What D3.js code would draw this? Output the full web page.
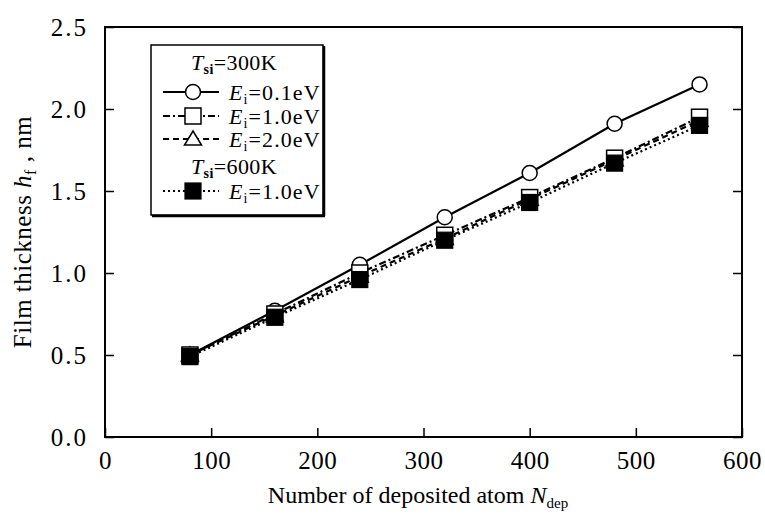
<!DOCTYPE html>
<html><head><meta charset="utf-8">
<script src="https://cdn.jsdelivr.net/npm/d3@7"></script>
<style>body{margin:0;background:#fff}svg{font-family:"Liberation Serif","Times New Roman",serif}</style>
</head><body><svg id="c" width="765" height="514"></svg>
<script>
const nDep = [80, 160, 240, 320, 400, 480, 560];
const e01_300K = [0.50, 0.77, 1.05, 1.34, 1.61, 1.91, 2.15];
const e10_300K = [0.50, 0.75, 1.00, 1.23, 1.46, 1.70, 1.95];
const e20_300K = [0.50, 0.74, 0.98, 1.21, 1.45, 1.69, 1.93];
const e10_600K = [0.49, 0.73, 0.96, 1.20, 1.43, 1.67, 1.90];
const xTicks = [0, 100, 200, 300, 400, 500, 600];
const yTicks = [0.0, 0.5, 1.0, 1.5, 2.0, 2.5];

const svg = d3.select("#c");
const L = 105, R = 742, T = 27, B = 437;
const x = d3.scaleLinear().domain([0, 600]).range([L, R]);
const y = d3.scaleLinear().domain([0, 2.5]).range([B, T]);

// axes
const tickLen = 9;
svg.append("g").attr("transform", `translate(0,${B})`)
  .call(d3.axisBottom(x).tickValues(xTicks).tickSize(-tickLen).tickPadding(14).tickFormat(d3.format("d")))
  .call(g => { g.select(".domain").remove(); g.selectAll("text").attr("font-size", 25).attr("font-family", "Liberation Serif").attr("fill", "#000").attr("letter-spacing", 0.5); g.selectAll("line").attr("stroke-width", 1.5); });
svg.append("g").attr("transform", `translate(${L},0)`)
  .call(d3.axisLeft(y).tickValues(yTicks).tickSize(-tickLen).tickPadding(17).tickFormat(d3.format(".1f")))
  .call(g => { g.select(".domain").remove(); g.selectAll("text").attr("font-size", 25).attr("font-family", "Liberation Serif").attr("fill", "#000").attr("letter-spacing", 2); g.selectAll("line").attr("stroke-width", 1.5); });
svg.append("g").attr("transform", `translate(${R},0)`)
  .call(d3.axisRight(y).tickValues(yTicks).tickSize(-tickLen).tickFormat(""))
  .call(g => { g.select(".domain").remove(); g.selectAll("line").attr("stroke-width", 1.5); });
svg.append("rect").attr("x", L).attr("y", T).attr("width", R - L).attr("height", B - T)
  .attr("fill", "none").attr("stroke", "#000").attr("stroke-width", 2);

// series
const series = [
  {vals: e01_300K, dash: null, sym: "circle"},
  {vals: e20_300K, dash: "6,4", sym: "triangle"},
  {vals: e10_300K, dash: "7,3,2,3", sym: "square"},
  {vals: e10_600K, dash: "2,3", sym: "filled"}
];
const line = d3.line().x((d, i) => x(nDep[i])).y(d => y(d));
series.forEach(s => {
  svg.append("path").attr("d", line(s.vals)).attr("fill", "none").attr("stroke", "#000")
    .attr("stroke-width", 2.2).attr("stroke-dasharray", s.dash);
});
function drawSym(g, sym, cx, cy) {
  if (sym === "circle") g.append("circle").attr("cx", cx).attr("cy", cy).attr("r", 7.5).attr("fill", "#fff").attr("stroke", "#000").attr("stroke-width", 1.5);
  else if (sym === "square") g.append("rect").attr("x", cx - 8).attr("y", cy - 8).attr("width", 16).attr("height", 16).attr("fill", "#fff").attr("stroke", "#000").attr("stroke-width", 1.5);
  else if (sym === "filled") g.append("rect").attr("x", cx - 8).attr("y", cy - 8).attr("width", 16).attr("height", 16).attr("fill", "#000").attr("stroke", "#000").attr("stroke-width", 1.2);
  else if (sym === "triangle") g.append("path").attr("d", `M${cx},${cy - 8}L${cx + 8.5},${cy + 6}L${cx - 8.5},${cy + 6}Z`).attr("fill", "#fff").attr("stroke", "#000").attr("stroke-width", 1.5);
}
const mg = svg.append("g");
series.forEach(s => s.vals.forEach((v, i) => drawSym(mg, s.sym, x(nDep[i]), y(v))));

// legend
const lg = svg.append("g");
lg.append("rect").attr("x", 151).attr("y", 45).attr("width", 172).attr("height", 170).attr("fill", "#fff").attr("stroke", "#000").attr("stroke-width", 1.5);
lg.append("line").attr("x1", 324).attr("x2", 324).attr("y1", 46).attr("y2", 216).attr("stroke", "#000").attr("stroke-width", 2.5);
lg.append("line").attr("x1", 152).attr("x2", 325).attr("y1", 216).attr("y2", 216).attr("stroke", "#000").attr("stroke-width", 2.5);
function tsiText(yy, val) {
  const t = lg.append("text").attr("x", 234).attr("y", yy).attr("text-anchor", "middle").attr("font-size", 22).attr("letter-spacing", 0.4);
  t.append("tspan").attr("font-style", "italic").text("T");
  t.append("tspan").attr("font-size", 14).attr("dy", 4).attr("font-weight", "bold").text("si");
  t.append("tspan").attr("dy", -4).text("=" + val);
}
function eiText(yy, val) {
  const t = lg.append("text").attr("x", 229).attr("y", yy).attr("font-size", 22).attr("letter-spacing", 1.1);
  t.append("tspan").attr("font-style", "italic").text("E");
  t.append("tspan").attr("font-size", 14).attr("dy", 4).text("i");
  t.append("tspan").attr("dy", -4).text("=" + val);
}
const legendRows = [
  {kind: "head", label: "300K", cy: 62},
  {kind: "entry", label: "0.1eV", cy: 92, s: series[0]},
  {kind: "entry", label: "1.0eV", cy: 116, s: series[2]},
  {kind: "entry", label: "2.0eV", cy: 139, s: series[1]},
  {kind: "head", label: "600K", cy: 166},
  {kind: "entry", label: "1.0eV", cy: 191, s: series[3]}
];
legendRows.forEach(r => {
  if (r.kind === "head") { tsiText(r.cy + 8, r.label); return; }
  lg.append("line").attr("x1", 163).attr("x2", 219).attr("y1", r.cy).attr("y2", r.cy)
    .attr("stroke", "#000").attr("stroke-width", 2).attr("stroke-dasharray", r.s.dash);
  drawSym(lg, r.s.sym, 193, r.cy);
  eiText(r.cy + 8, r.label);
});

// axis titles
const xt = svg.append("text").attr("x", 418).attr("y", 503).attr("text-anchor", "middle").attr("font-size", 24);
xt.append("tspan").text("Number of deposited atom ");
xt.append("tspan").attr("font-style", "italic").text("N");
xt.append("tspan").attr("font-size", 15).attr("dy", 5).text("dep");

const yt = svg.append("text").attr("transform", "translate(31,232) rotate(-90)").attr("text-anchor", "middle").attr("font-size", 25).attr("letter-spacing", 0.5);
yt.append("tspan").text("Film thickness ");
yt.append("tspan").attr("font-style", "italic").text("h");
yt.append("tspan").attr("font-size", 16).attr("dy", 5).text("f");
yt.append("tspan").attr("dy", -5).text(" , nm");
</script></body></html>
